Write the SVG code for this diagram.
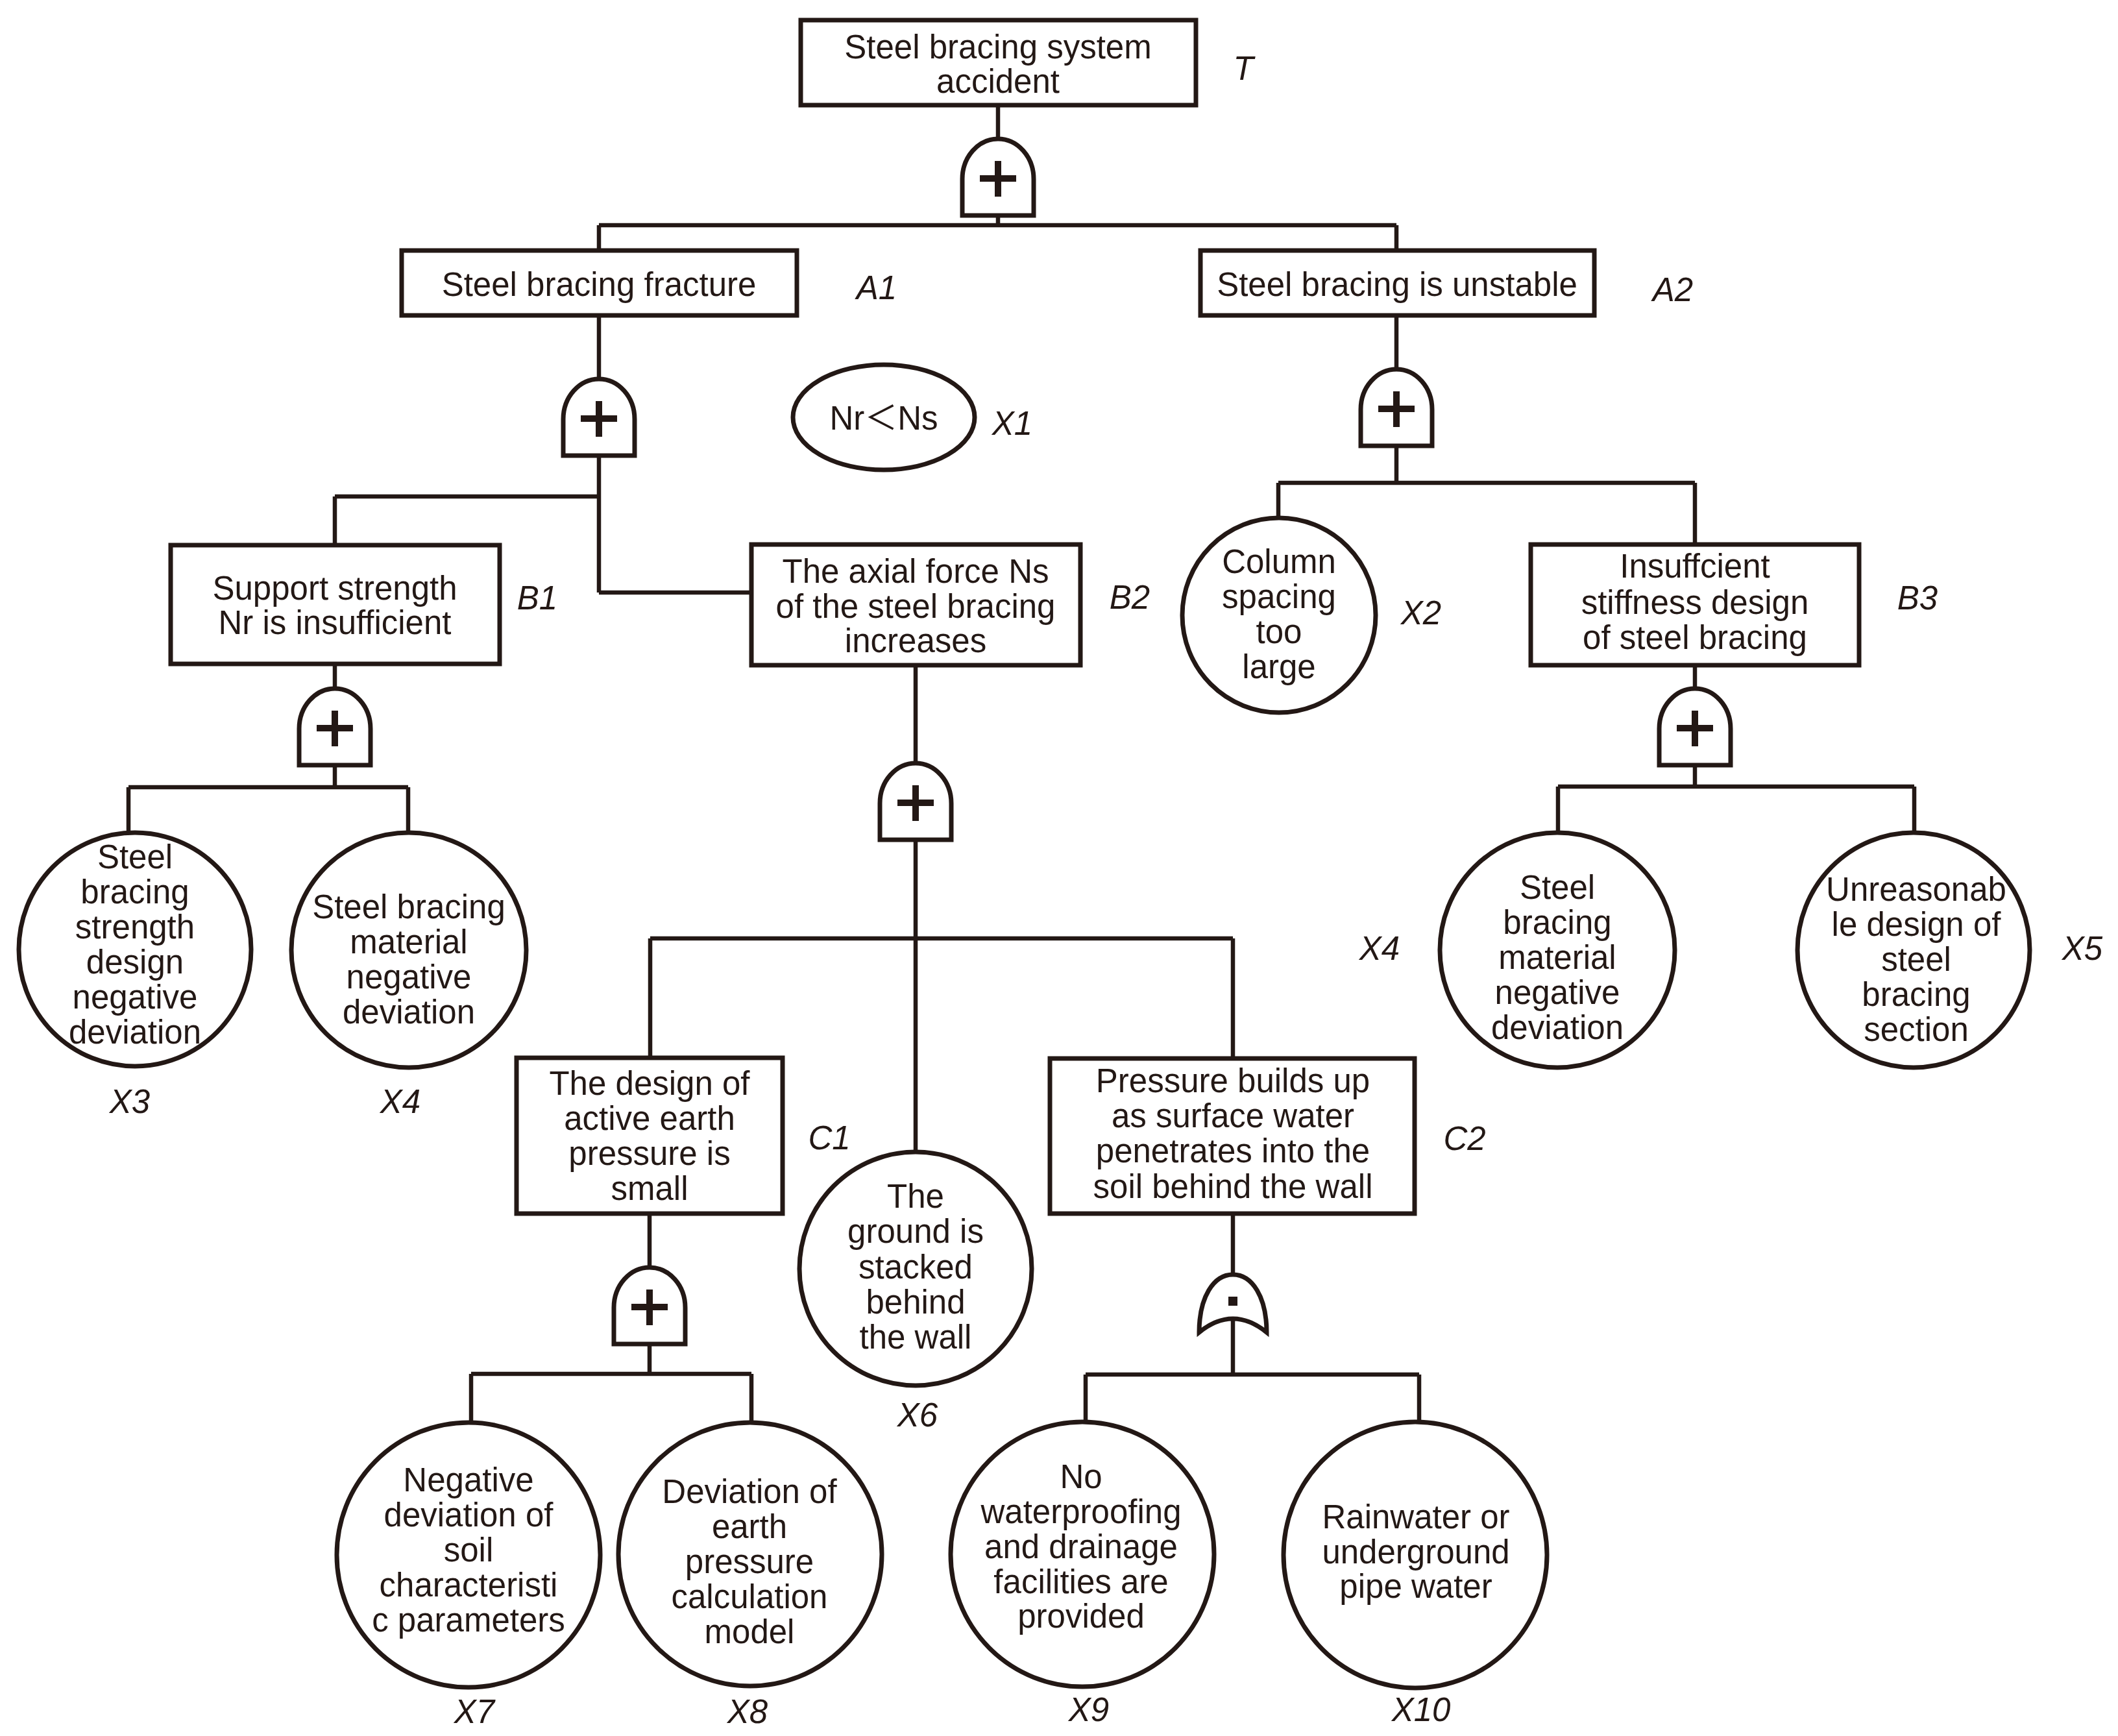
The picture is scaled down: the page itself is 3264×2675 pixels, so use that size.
<svg xmlns="http://www.w3.org/2000/svg" xmlns:xlink="http://www.w3.org/1999/xlink" width="3264" height="2675" viewBox="0 0 3264 2675">
<style>
.bg{fill:#ffffff}
.box{fill:#ffffff;stroke:#231815;stroke-width:7}
.ev{fill:#ffffff;stroke:#231815;stroke-width:7}
.ln{fill:none;stroke:#231815;stroke-width:6.5}
.gate{fill:#ffffff;stroke:#231815;stroke-width:7}
.sym{fill:none;stroke:#231815;stroke-width:10}
.t{font-family:"Liberation Sans",Arial,"Noto Sans CJK SC",sans-serif;font-size:51px;fill:#231815;text-anchor:middle}
.lb{font-family:"Liberation Sans",Arial,sans-serif;font-size:51px;font-style:italic;fill:#231815;text-anchor:middle}
</style>
<defs>
<g id="orGate">
<path class="gate" d="M-55,118 L-55,62 A55,62 0 0 1 55,62 L55,118 Z"/>
<path class="sym" d="M0,34 V89 M-28,61 H28"/>
</g>
<g id="andGate">
<path class="gate" d="M-52,89 C-52,35 -30,0 0,0 C30,0 52,35 52,89 Q0,47 -52,89 Z"/>
<rect x="-7" y="34" width="14" height="14" fill="#231815"/>
</g>
</defs>
<rect class="bg" x="0" y="0" width="3264" height="2675"/>

<g id="connectors">
<path class="ln" d="M1538,165 V214 M1538,330 V347 M923,347 H2152 M923,347 V383 M2152,347 V383"/>
<path class="ln" d="M923,489 V584 M923,700 V913 M516,765 H923 M516,765 V837 M923,913 H1155"/>
<path class="ln" d="M2152,489 V569 M2152,685 V744 M1970,744 H2612 M1970,744 V796 M2612,744 V836"/>
<path class="ln" d="M516,1026 V1061 M516,1177 V1213 M198,1213 H629 M198,1213 V1282 M629,1213 V1281"/>
<path class="ln" d="M1411,1028 V1176 M1411,1291 V1773 M1002,1446 H1900 M1002,1446 V1627 M1900,1446 V1628"/>
<path class="ln" d="M2612,1028 V1061 M2612,1178 V1212 M2401,1212 H2950 M2401,1212 V1281 M2950,1212 V1281"/>
<path class="ln" d="M1001,1873 V1954 M1001,2068 V2117 M726,2117 H1158 M726,2117 V2190 M1158,2117 V2190"/>
<path class="ln" d="M1900,1873 V1964 M1900,2030 V2118 M1673,2118 H2187 M1673,2118 V2189 M2187,2118 V2189"/>
</g>

<g id="gates">
<use id="gate-T" xlink:href="#orGate" href="#orGate" x="1538" y="214"/>
<use id="gate-A1" xlink:href="#orGate" href="#orGate" x="923" y="584"/>
<use id="gate-A2" xlink:href="#orGate" href="#orGate" x="2152" y="569"/>
<use id="gate-B1" xlink:href="#orGate" href="#orGate" x="516" y="1061"/>
<use id="gate-B2" xlink:href="#orGate" href="#orGate" x="1411" y="1176"/>
<use id="gate-B3" xlink:href="#orGate" href="#orGate" x="2612" y="1061"/>
<use id="gate-C1" xlink:href="#orGate" href="#orGate" x="1001" y="1953"/>
<use id="gate-C2" xlink:href="#andGate" href="#andGate" x="1900" y="1964"/>
</g>

<g id="node-T">
<rect class="box" x="1234" y="31" width="609" height="131"/>
<text class="t" x="1538" y="90">Steel bracing system</text>
<text class="t" x="1538" y="143">accident</text>
<text class="lb" x="1916" y="123">T</text>
</g>

<g id="node-A1">
<rect class="box" x="619" y="386" width="609" height="100"/>
<text class="t" x="923" y="456">Steel bracing fracture</text>
<text class="lb" x="1351" y="461">A1</text>
</g>

<g id="node-A2">
<rect class="box" x="1850" y="386" width="607" height="100"/>
<text class="t" x="2153" y="456">Steel bracing is unstable</text>
<text class="lb" x="2578" y="464">A2</text>
</g>

<g id="node-X1">
<ellipse class="ev" cx="1362" cy="643" rx="140" ry="81"/>
<text class="t" x="1362" y="662">Nr＜Ns</text>
<text class="lb" x="1560" y="670">X1</text>
</g>

<g id="node-B1">
<rect class="box" x="263" y="840" width="507" height="183"/>
<text class="t" x="516" y="924">Support strength</text>
<text class="t" x="516" y="977">Nr is insufficient</text>
<text class="lb" x="828" y="939">B1</text>
</g>

<g id="node-B2">
<rect class="box" x="1158" y="839" width="507" height="186"/>
<text class="t" x="1411" y="898">The axial force Ns</text>
<text class="t" x="1411" y="952">of the steel bracing</text>
<text class="t" x="1411" y="1005">increases</text>
<text class="lb" x="1741" y="938">B2</text>
</g>

<g id="node-X2">
<ellipse class="ev" cx="1971" cy="948" rx="149" ry="150"/>
<text class="t" x="1971" y="883">Column</text>
<text class="t" x="1971" y="937">spacing</text>
<text class="t" x="1971" y="991">too</text>
<text class="t" x="1971" y="1045">large</text>
<text class="lb" x="2190" y="962">X2</text>
</g>

<g id="node-B3">
<rect class="box" x="2359" y="839" width="506" height="186"/>
<text class="t" x="2612" y="890">Insuffcient</text>
<text class="t" x="2612" y="946">stiffness design</text>
<text class="t" x="2612" y="1000">of steel bracing</text>
<text class="lb" x="2955" y="939">B3</text>
</g>

<g id="node-X3">
<ellipse class="ev" cx="208" cy="1463" rx="179" ry="180"/>
<text class="t" x="208" y="1338">Steel</text>
<text class="t" x="208" y="1392">bracing</text>
<text class="t" x="208" y="1446">strength</text>
<text class="t" x="208" y="1500">design</text>
<text class="t" x="208" y="1554">negative</text>
<text class="t" x="208" y="1608">deviation</text>
<text class="lb" x="200" y="1715">X3</text>
</g>

<g id="node-X4a">
<ellipse class="ev" cx="630" cy="1464" rx="181" ry="181"/>
<text class="t" x="630" y="1415">Steel bracing</text>
<text class="t" x="630" y="1469">material</text>
<text class="t" x="630" y="1523">negative</text>
<text class="t" x="630" y="1577">deviation</text>
<text class="lb" x="617" y="1715">X4</text>
</g>

<g id="node-X4b">
<ellipse class="ev" cx="2400" cy="1464" rx="181" ry="181"/>
<text class="t" x="2400" y="1385">Steel</text>
<text class="t" x="2400" y="1439">bracing</text>
<text class="t" x="2400" y="1493">material</text>
<text class="t" x="2400" y="1547">negative</text>
<text class="t" x="2400" y="1601">deviation</text>
<text class="lb" x="2126" y="1479">X4</text>
</g>

<g id="node-X5">
<ellipse class="ev" cx="2949" cy="1464" rx="179" ry="181"/>
<text class="t" x="2953" y="1388">Unreasonab</text>
<text class="t" x="2953" y="1442">le design of</text>
<text class="t" x="2953" y="1496">steel</text>
<text class="t" x="2953" y="1550">bracing</text>
<text class="t" x="2953" y="1604">section</text>
<text class="lb" x="3209" y="1479">X5</text>
</g>

<g id="node-C1">
<rect class="box" x="796" y="1630" width="410" height="240"/>
<text class="t" x="1001" y="1687">The design of</text>
<text class="t" x="1001" y="1741">active earth</text>
<text class="t" x="1001" y="1795">pressure is</text>
<text class="t" x="1001" y="1849">small</text>
<text class="lb" x="1278" y="1771">C1</text>
</g>

<g id="node-X6">
<ellipse class="ev" cx="1411" cy="1955" rx="179" ry="180"/>
<text class="t" x="1411" y="1861">The</text>
<text class="t" x="1411" y="1915">ground is</text>
<text class="t" x="1411" y="1970">stacked</text>
<text class="t" x="1411" y="2024">behind</text>
<text class="t" x="1411" y="2078">the wall</text>
<text class="lb" x="1414" y="2198">X6</text>
</g>

<g id="node-C2">
<rect class="box" x="1618" y="1631" width="562" height="239"/>
<text class="t" x="1900" y="1683">Pressure builds up</text>
<text class="t" x="1900" y="1737">as surface water</text>
<text class="t" x="1900" y="1791">penetrates into the</text>
<text class="t" x="1900" y="1846">soil behind the wall</text>
<text class="lb" x="2257" y="1772">C2</text>
</g>

<g id="node-X7">
<ellipse class="ev" cx="722" cy="2396" rx="203" ry="204"/>
<text class="t" x="722" y="2298">Negative</text>
<text class="t" x="722" y="2352">deviation of</text>
<text class="t" x="722" y="2406">soil</text>
<text class="t" x="722" y="2460">characteristi</text>
<text class="t" x="722" y="2514">c parameters</text>
<text class="lb" x="731" y="2655">X7</text>
</g>

<g id="node-X8">
<ellipse class="ev" cx="1156" cy="2395" rx="203" ry="203"/>
<text class="t" x="1155" y="2316">Deviation of</text>
<text class="t" x="1155" y="2370">earth</text>
<text class="t" x="1155" y="2424">pressure</text>
<text class="t" x="1155" y="2478">calculation</text>
<text class="t" x="1155" y="2532">model</text>
<text class="lb" x="1152" y="2655">X8</text>
</g>

<g id="node-X9">
<ellipse class="ev" cx="1668" cy="2395" rx="203" ry="204"/>
<text class="t" x="1666" y="2293">No</text>
<text class="t" x="1666" y="2347">waterproofing</text>
<text class="t" x="1666" y="2401">and drainage</text>
<text class="t" x="1666" y="2455">facilities are</text>
<text class="t" x="1666" y="2508">provided</text>
<text class="lb" x="1678" y="2652">X9</text>
</g>

<g id="node-X10">
<ellipse class="ev" cx="2181" cy="2396" rx="203" ry="205"/>
<text class="t" x="2182" y="2355">Rainwater or</text>
<text class="t" x="2182" y="2409">underground</text>
<text class="t" x="2182" y="2462">pipe water</text>
<text class="lb" x="2190" y="2652">X10</text>
</g>
</svg>
